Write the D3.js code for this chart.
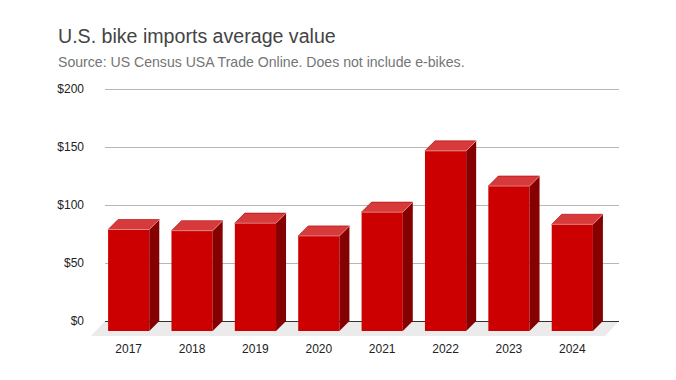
<!DOCTYPE html>
<html>
<head>
<meta charset="utf-8">
<script src="https://cdn.jsdelivr.net/npm/d3@7"></script>
<style>
  body { margin: 0; background: #fff; }
  svg { display: block; font-family: 'Liberation Sans', Arial, sans-serif; }
</style>
</head>
<body>
<svg width="676" height="380"></svg>
<script>
const YEARS = ['2017', '2018', '2019', '2020', '2021', '2022', '2023', '2024']
const VALUES = [87.5, 86.5, 93, 82, 102.5, 155.3, 125, 92]
const Y_TICKS = [0, 50, 100, 150, 200]

const DEPTH = 10

const svg = d3.select('svg')

svg.append('text')
  .attr('x', 58).attr('y', 43)
  .attr('font-size', 19.6)
  .attr('fill', '#444')
  .text('U.S. bike imports average value')

svg.append('text')
  .attr('x', 58).attr('y', 67)
  .attr('font-size', 14.1)
  .attr('fill', '#757575')
  .text('Source: US Census USA Trade Online. Does not include e-bikes.')

// back plane scales; front faces are shifted left/down by DEPTH
const y = d3.scaleLinear().domain([0, 200]).range([321, 89])
const x = d3.scaleBand().domain(YEARS).range([97, 604])
  .paddingInner(0.35).paddingOuter(0.175)

const left = 105
const right = 619

// floor
svg.append('polygon')
  .attr('points', [[left, y(0)], [right, y(0)], [right - 14, y(0) + 15], [left - 14, y(0) + 15]].join(' '))
  .attr('fill', '#ebebeb')

svg.append('g')
  .selectAll('line')
  .data(Y_TICKS.filter(d => d > 0))
  .enter().append('line')
  .attr('x1', left).attr('x2', right)
  .attr('y1', d => y(d) + 0.5).attr('y2', d => y(d) + 0.5)
  .attr('stroke', '#b7b7b7')

svg.append('line')
  .attr('x1', left).attr('x2', right)
  .attr('y1', y(0) + 0.5).attr('y2', y(0) + 0.5)
  .attr('stroke', '#333')

svg.append('g')
  .selectAll('text')
  .data(Y_TICKS)
  .enter().append('text')
  .attr('x', 84)
  .attr('y', d => y(d) + 4)
  .attr('text-anchor', 'end')
  .attr('font-size', 12)
  .attr('fill', '#222')
  .text(d => '$' + d)

const bars = svg.append('g')
  .selectAll('g')
  .data(YEARS.map((year, i) => ({ year, value: VALUES[i] })))
  .enter().append('g')

const w = x.bandwidth()

// front face
bars.append('rect')
  .attr('x', d => x(d.year))
  .attr('y', d => y(d.value) + DEPTH)
  .attr('width', w)
  .attr('height', d => y(0) - y(d.value))
  .attr('fill', '#cc0000')

// side face
bars.append('polygon')
  .attr('points', d => {
    const x0 = x(d.year) + w
    const t = y(d.value) + DEPTH
    const b = y(0) + DEPTH
    return [[x0, t], [x0 + DEPTH, t - DEPTH], [x0 + DEPTH, b - DEPTH], [x0, b]].join(' ')
  })
  .attr('fill', '#850000')

// top face
bars.append('polygon')
  .attr('points', d => {
    const x0 = x(d.year)
    const t = y(d.value) + DEPTH
    return [[x0, t], [x0 + DEPTH, t - DEPTH], [x0 + w + DEPTH, t - DEPTH], [x0 + w, t]].join(' ')
  })
  .attr('fill', '#d63a3a')
  .attr('stroke', '#b00000')
  .attr('stroke-width', 0.6)

// highlight edges
bars.append('polyline')
  .attr('points', d => {
    const x0 = x(d.year)
    const t = y(d.value) + DEPTH
    return [[x0, t], [x0 + w, t], [x0 + w + DEPTH, t - DEPTH]].join(' ')
  })
  .attr('fill', 'none')
  .attr('stroke', '#f0a0a0')
  .attr('stroke-width', 0.8)

svg.append('g')
  .selectAll('text')
  .data(YEARS)
  .enter().append('text')
  .attr('x', d => x(d) + w / 2)
  .attr('y', 353)
  .attr('text-anchor', 'middle')
  .attr('font-size', 12)
  .attr('fill', '#222')
  .text(d => d)
</script>
</body>
</html>
